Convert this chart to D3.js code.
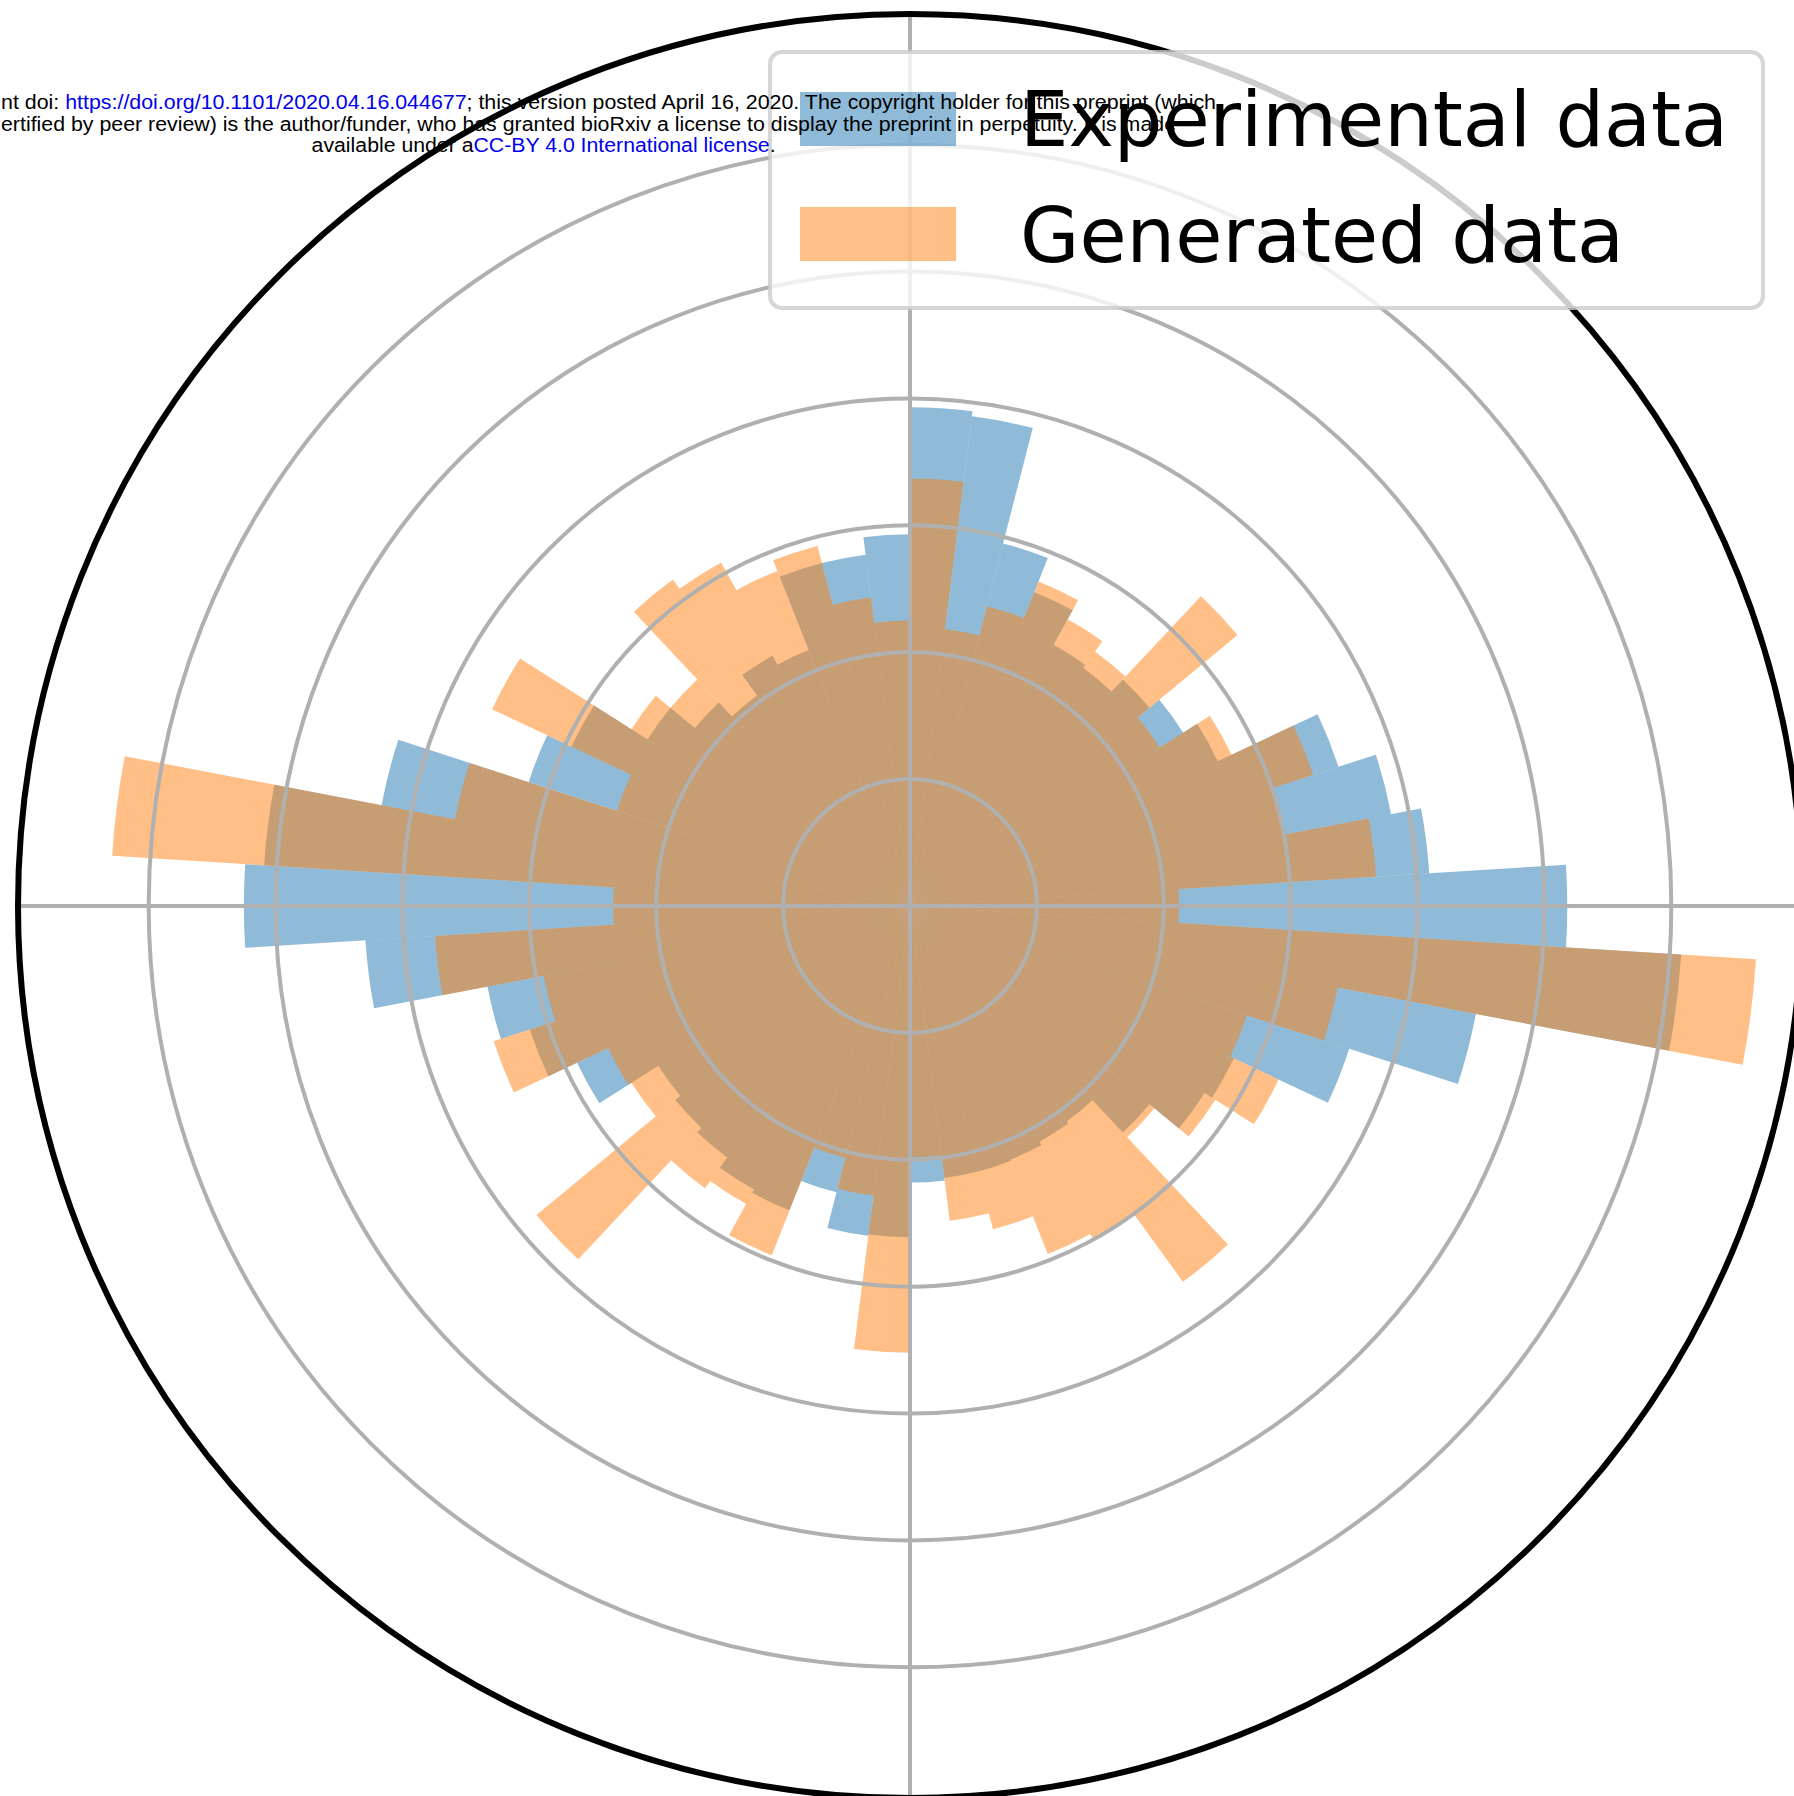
<!DOCTYPE html>
<html>
<head>
<meta charset="utf-8">
<script src="https://cdn.jsdelivr.net/npm/d3@7"></script>
<style>
  html, body { margin: 0; padding: 0; background: #ffffff; }
  svg { display: block; }
</style>
</head>
<body>
<svg id="chart" width="1794" height="1796"></svg>
<script>
// Polar histogram of heading angles: 50 bins of 7.2 degrees, centred on k * 7.2 deg
// (counter-clockwise from east). Radial values are histogram heights.
const binCount = 50;
const binCenters = d3.range(binCount).map(k => k * 360 / binCount);

const experimental = [
  5.18, 4.10, 3.86, 3.55, 2.68, 2.55, 2.45, 2.32, 2.35, 2.66,
  2.95, 3.89, 3.93, 2.93, 2.79, 2.79, 2.17, 2.25, 2.05, 2.20,
  2.45, 2.95, 3.16, 4.24, 5.10, 5.25, 4.30, 3.39, 3.15, 2.90,
  2.35, 2.40, 2.45, 2.55, 2.58, 2.33, 2.62, 2.61, 2.18, 2.16,
  2.16, 2.15, 2.12, 2.10, 2.45, 2.75, 2.82, 3.64, 4.54, 6.09
];

const generated = [
  2.12, 3.68, 3.00, 3.34, 2.80, 2.33, 3.35, 2.48, 2.58, 2.75,
  2.44, 2.20, 3.37, 2.25, 2.45, 2.93, 2.84, 3.09, 3.18, 2.45,
  2.60, 3.64, 2.43, 3.65, 6.30, 2.34, 3.75, 2.94, 3.45, 2.63,
  2.60, 3.82, 2.75, 2.68, 2.96, 2.05, 2.30, 3.52, 1.98, 2.50,
  2.63, 2.95, 3.00, 3.66, 2.50, 2.85, 3.21, 2.79, 3.43, 6.68
];

const seriesNames = ["Experimental data", "Generated data"];
const seriesColors = ["#1f77b4", "#ff7f0e"];
const radialTicks = [1, 2, 3, 4, 5, 6];
const spokeAngles = [0, 90, 180, 270];
const rMax = 7.03;

const headerLines = [
  [["nt doi: ", "#000"], ["https://doi.org/10.1101/2020.04.16.044677", "#0000ee"],
   ["; this version posted April 16, 2020. The copyright holder for this preprint (which", "#000"]],
  [["ertified by peer review) is the author/funder, who has granted bioRxiv a license to display the preprint in perpetuity. It is made", "#000"]],
  [["available under a", "#000"], ["CC-BY 4.0 International license", "#0000ee"], [".", "#000"]]
];

const svg = d3.select("#chart");
const cx = 910, cy = 906;

const r = d3.scaleLinear().domain([0, rMax]).range([0, 892]);
// degrees counter-clockwise from east -> d3 arc angle (radians clockwise from north)
const ang = d3.scaleLinear().domain([0, 360]).range([Math.PI / 2, Math.PI / 2 - 2 * Math.PI]);
const binWidth = 360 / binCount;

const plot = svg.append("g").attr("transform", `translate(${cx},${cy})`);

const arc = d3.arc()
  .innerRadius(0)
  .outerRadius(d => r(d.value))
  .startAngle(d => ang(d.center + binWidth / 2))
  .endAngle(d => ang(d.center - binWidth / 2));

[experimental, generated].forEach((values, i) => {
  plot.append("g")
    .selectAll("path")
    .data(values.map((v, k) => ({ value: v, center: binCenters[k] })))
    .join("path")
    .attr("d", arc)
    .attr("fill", seriesColors[i])
    .attr("fill-opacity", 0.5);
});

// grid: rings and the four spokes
plot.append("g")
  .selectAll("circle")
  .data(radialTicks)
  .join("circle")
  .attr("r", d => r(d))
  .attr("fill", "none")
  .attr("stroke", "#b0b0b0")
  .attr("stroke-width", 4);

plot.append("g")
  .selectAll("line")
  .data(spokeAngles)
  .join("line")
  .attr("x1", 0).attr("y1", 0)
  .attr("x2", d => r(rMax) * Math.cos(d * Math.PI / 180))
  .attr("y2", d => -r(rMax) * Math.sin(d * Math.PI / 180))
  .attr("stroke", "#b0b0b0")
  .attr("stroke-width", 4);

// outer spine
plot.append("circle")
  .attr("r", r(rMax))
  .attr("fill", "none")
  .attr("stroke", "#000")
  .attr("stroke-width", 6);

// legend
const legend = svg.append("g");
legend.append("rect")
  .attr("x", 770).attr("y", 52).attr("width", 993).attr("height", 256)
  .attr("rx", 12).attr("ry", 12)
  .attr("fill", "#fff").attr("fill-opacity", 0.8)
  .attr("stroke", "#cccccc").attr("stroke-opacity", 0.8).attr("stroke-width", 4);

const legendRows = [
  { y: 92, base: 146, len: 708 },
  { y: 207, base: 262, len: 604 }
];
seriesNames.forEach((name, i) => {
  legend.append("rect")
    .attr("x", 800).attr("y", legendRows[i].y)
    .attr("width", 156).attr("height", 54)
    .attr("fill", seriesColors[i]).attr("fill-opacity", 0.5);
  legend.append("text")
    .attr("x", 1020).attr("y", legendRows[i].base)
    .attr("font-family", "DejaVu Sans")
    .attr("font-size", 76)
    .attr("fill", "#000")
    .attr("textLength", legendRows[i].len)
    .attr("lengthAdjust", "spacingAndGlyphs")
    .text(name);
});

// header lines on top
const header = svg.append("g")
  .attr("font-family", "Liberation Sans, Arial, sans-serif")
  .attr("font-size", 20);
const headerPos = [
  { x: 1, y: 109, anchor: "start", len: 1215 },
  { x: 1, y: 130.5, anchor: "start", len: 1175 },
  { x: 543.6, y: 152, anchor: "middle", len: 464 }
];
headerLines.forEach((parts, i) => {
  const t = header.append("text")
    .attr("x", headerPos[i].x)
    .attr("y", headerPos[i].y)
    .attr("text-anchor", headerPos[i].anchor)
    .attr("textLength", headerPos[i].len)
    .attr("lengthAdjust", "spacingAndGlyphs");
  parts.forEach(([str, col]) => t.append("tspan").attr("fill", col).text(str));
});
</script>
</body>
</html>
